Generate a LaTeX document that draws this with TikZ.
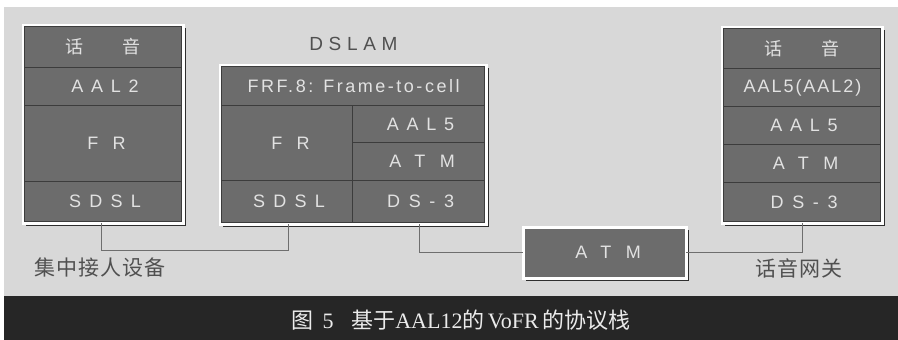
\documentclass[tikz,border=0pt]{standalone}
\usepackage{fontspec}
\setmainfont{Liberation Serif}
\newfontfamily\cjk{Noto Sans CJK SC}
\newfontfamily\layerfont{Liberation Sans}
\usetikzlibrary{positioning,shadows}
\definecolor{PanelGray}{HTML}{D8D8D8}
\definecolor{BandGray}{HTML}{262626}
\definecolor{LayerGray}{HTML}{6C6C6C}
\definecolor{LayerText}{HTML}{E2E2E2}
\definecolor{DivLine}{HTML}{3C3C3C}
\definecolor{ShadowGray}{HTML}{2E2E2E}
\definecolor{LinkGray}{HTML}{6E6E6E}
\definecolor{NameGray}{HTML}{505050}
% tracked text: letter spacing, balanced on the left
\newcommand{\tracked}[2]{{\addfontfeature{LetterSpace=#1}\hspace{\dimexpr 0.005em*#1\relax}#2}}

\begin{document}
\begin{tikzpicture}[x=1pt,y=-1pt,
    frame/.style={draw=white,line width=3pt,fill=LayerGray,inner sep=0pt,outer sep=0pt,
      anchor=north west,
      drop shadow={shadow xshift=2.5pt,shadow yshift=-2.5pt,fill=ShadowGray,opacity=1}},
    layer/.style={draw=DivLine,line width=1pt,fill=LayerGray,text=LayerText,
      inner sep=0pt,outer sep=0pt,font=\layerfont\fontsize{18}{21}\selectfont},
    link/.style={draw=LinkGray,line width=1pt},
    devname/.style={text=NameGray,font=\cjk\fontsize{21}{25}\selectfont},
    boxtitle/.style={text=NameGray,font=\layerfont\fontsize{19}{22}\selectfont},
    captiontext/.style={text=white!92!black,font=\fontsize{22}{26}\selectfont}
  ]
    \useasboundingbox (0,0) rectangle (898,340);
    \fill[PanelGray] (4,7) rectangle (898,296);
    \fill[BandGray] (4,296) rectangle (898,340);

    % access device stack
    \node[frame,minimum width=160pt,minimum height=198pt] (access) at (23,25) {};
    \node[layer,minimum width=157pt,minimum height=41pt,anchor=north] (accVoice)
      at ([yshift=-1.5pt]access.north) {\cjk 话\hspace{2.2em}音};
    \node[layer,minimum width=157pt,minimum height=38pt,below=0pt of accVoice] (accAal) {\tracked{43}{AAL2}};
    \node[layer,minimum width=157pt,minimum height=76pt,below=0pt of accAal] (accFr) {\tracked{78}{FR}};
    \node[layer,minimum width=157pt,minimum height=40pt,below=0pt of accFr] (accSdsl) {\tracked{46}{SDSL}};

    % DSLAM stack
    \node[frame,minimum width=266pt,minimum height=159pt] (dslam) at (220,65) {};
    \node[boxtitle] (dslamName) at (352,44) {\tracked{30}{DSLAM}};
    \node[layer,minimum width=263pt,minimum height=39pt,anchor=north] (dslamFrf)
      at ([yshift=-1.5pt]dslam.north) {\tracked{14}{FRF.8: Frame-to-cell}};
    \node[layer,minimum width=131pt,minimum height=75pt,anchor=north west] (dslamFr)
      at (dslamFrf.south west) {\tracked{78}{FR}};
    \node[layer,minimum width=131pt,minimum height=42pt,below=0pt of dslamFr] (dslamSdsl) {\tracked{46}{SDSL}};
    \node[layer,minimum width=132pt,minimum height=37pt,anchor=north east] (dslamAal)
      at (dslamFrf.south east) {\tracked{43}{AAL5}};
    \node[layer,minimum width=132pt,minimum height=38pt,below=0pt of dslamAal] (dslamAtm) {\tracked{80}{ATM}};
    \node[layer,minimum width=132pt,minimum height=42pt,below=0pt of dslamAtm] (dslamDs) {\tracked{48}{DS-3}};

    % ATM network
    \node[frame,minimum width=163pt,minimum height=51pt,text=LayerText,
      font=\layerfont\fontsize{18}{21}\selectfont] (atm) at (523,227) {\tracked{80}{ATM}};

    % voice gateway stack
    \node[frame,minimum width=160pt,minimum height=196pt] (gateway) at (722,27) {};
    \node[layer,minimum width=157pt,minimum height=40pt,anchor=north] (gwVoice)
      at ([yshift=-1.5pt]gateway.north) {\cjk 话\hspace{2.2em}音};
    \node[layer,minimum width=157pt,minimum height=38pt,below=0pt of gwVoice] (gwAal52) {\tracked{11}{AAL5(AAL2)}};
    \node[layer,minimum width=157pt,minimum height=38pt,below=0pt of gwAal52] (gwAal) {\tracked{43}{AAL5}};
    \node[layer,minimum width=157pt,minimum height=38pt,below=0pt of gwAal] (gwAtm) {\tracked{80}{ATM}};
    \node[layer,minimum width=157pt,minimum height=39pt,below=0pt of gwAtm] (gwDs) {\tracked{48}{DS-3}};

    % links
    \draw[link] ([xshift=-2pt]access.south) -- ++(0,27) -| ([xshift=-65pt]dslam.south);
    \draw[link] ([xshift=66pt]dslam.south) |- (atm.west);
    \draw[link] (atm.east) -| (gateway.south);

    \node[devname] (accessName) at (100,268) {\tracked{5}{集中接人设备}};
    \node[devname] (gatewayName) at (799,268) {\tracked{5}{话音网关}};

    \node[captiontext] (caption) at (461,320)
      {{\cjk 图}\hspace{0.4em}5\hspace{0.8em}{\cjk 基于}AAL12{\cjk 的}\hspace{0.15em}VoFR\hspace{0.15em}{\cjk 的协议栈}};
  \end{tikzpicture}
\end{document}
